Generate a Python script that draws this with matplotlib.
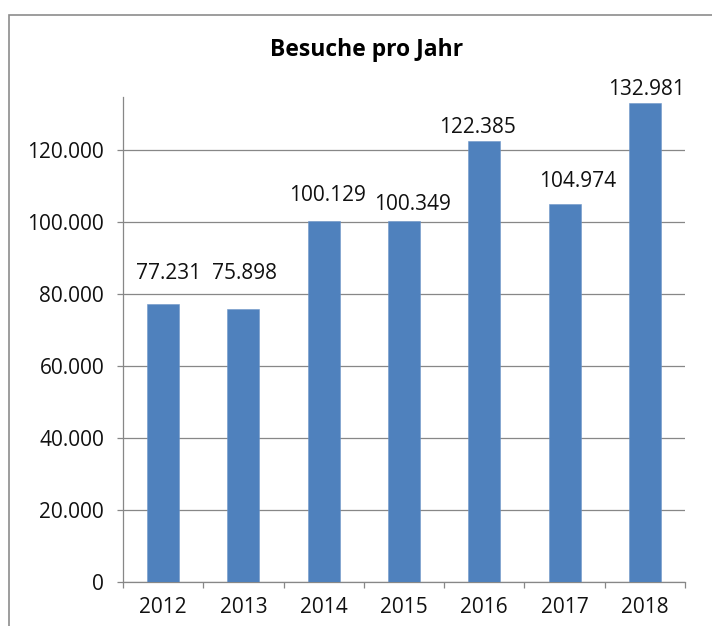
import matplotlib
matplotlib.use("Agg")
import matplotlib.pyplot as plt
from matplotlib.patches import Rectangle
import numpy as np

plt.rcParams['font.family'] = ['Open Sans', 'DejaVu Sans']

years = ["2012", "2013", "2014", "2015", "2016", "2017", "2018"]
visits = [77231, 75898, 100129, 100349, 122385, 104974, 132981]
value_labels = ["77.231", "75.898", "100.129", "100.349", "122.385", "104.974", "132.981"]
y_ticks = [0, 20000, 40000, 60000, 80000, 100000, 120000]
y_tick_labels = ["0", "20.000", "40.000", "60.000", "80.000", "100.000", "120.000"]
title = "Besuche pro Jahr"

# label placement offsets (pixels) mimicking the original layout
label_dx = [5, 1, 4, 8, -7, 13, 2]
label_dy = [24.5, 29.5, 20, 10.5, 8, 17.5, 8.5]

W, H = 712, 626
fig = plt.figure(figsize=(W / 100, H / 100), dpi=100)
fig.patch.set_facecolor("white")

# outer frame
fig.add_artist(Rectangle((9 / W, -0.1), 1.2, 1 - 15 / H + 0.1,
                         transform=fig.transFigure, fill=False,
                         edgecolor="#8c8c8c", linewidth=1.2))

ax = fig.add_axes([123 / W, 1 - 582 / H, (685 - 123) / W, (582 - 97) / H])
grey = "#878787"
x = np.arange(len(years))
ax.bar(x, visits, width=0.40, color="#4F81BD", edgecolor="#6f96c8", linewidth=0.4, zorder=3)

ax.set_xlim(-0.5, len(years) - 0.5)
ax.set_ylim(0, 134700)

fs = 15
ax.set_yticks(y_ticks)
ax.set_yticklabels(y_tick_labels, fontsize=fs, color="#111111")
ax.tick_params(axis="y", length=4.5, width=0.9, color=grey, pad=9)
ax.grid(axis="y", color=grey, linewidth=0.9, zorder=1)

ax.set_xticks(np.arange(len(years) + 1) - 0.5)
ax.set_xticklabels([""] * (len(years) + 1))
ax.tick_params(axis="x", which="major", length=4.5, width=0.9, color=grey, direction="out")
ax.set_xticks(x, minor=True)
ax.set_xticklabels(years, minor=True, fontsize=fs, color="#111111")
ax.tick_params(axis="x", which="minor", length=0, pad=11)

for side in ["top", "right"]:
    ax.spines[side].set_visible(False)
for side in ["left", "bottom"]:
    ax.spines[side].set_color(grey)
    ax.spines[side].set_linewidth(0.9)

for i, (v, lab) in enumerate(zip(visits, value_labels)):
    ax.annotate(lab, (x[i], v), xytext=(label_dx[i], label_dy[i]),
                textcoords="offset pixels", ha="center", va="baseline",
                fontsize=fs, color="#111111")

fig.text(367 / W, 1 - 50 / H, title, ha="center", va="center",
         fontsize=16.5, fontweight="bold", color="black")

fig.savefig("out.png", dpi=100)
